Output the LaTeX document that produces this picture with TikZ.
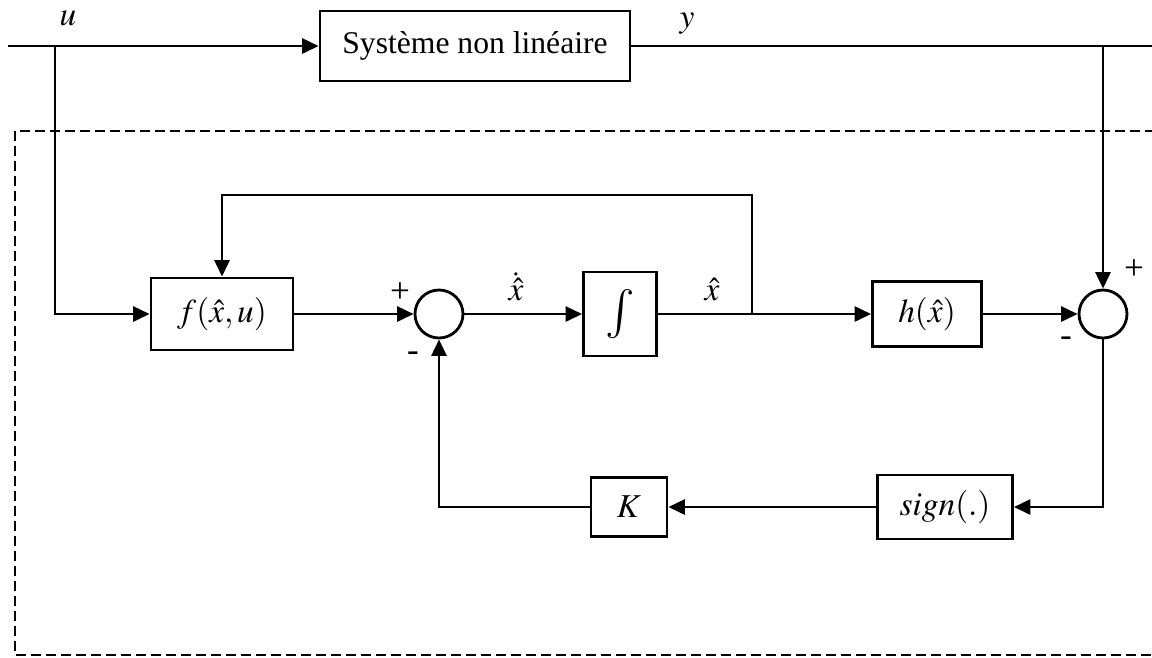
\documentclass[tikz,border=0pt]{standalone}
\usepackage{mathptmx}
\usepackage{fontspec}
\setmainfont{Liberation Serif}
\usetikzlibrary{arrows.meta}

\begin{document}
\begin{tikzpicture}[x=0.2mm, y=-0.2mm, line width=1.6pt,
    blockBox/.style={draw, rectangle, inner sep=0pt},
    sumCircle/.style={draw, circle, minimum size=9.6mm, inner sep=0pt},
    signal/.style={-{Triangle[length=3.3mm,width=3mm]}},
    signLabel/.style={font=\fontsize{20}{22}\selectfont},
    every node/.style={font=\fontsize{19}{22}\selectfont}]
    \def\topRow{46}
    \def\mainRow{314}
    \def\lowRow{507}

    % Page frame
    \clip (0,0) rectangle (1152,657);

    % Observer frame
    \draw[line width=1.2pt, dash pattern=on 2mm off 1mm] (1170,131) -- (15,131) -- (15,655) -- (1170,655);

    % Blocks
    \node[blockBox, minimum width=62mm, minimum height=14mm, font=\fontsize{18}{21}\selectfont] (system) at (475,\topRow) {Système non linéaire};
    \node[blockBox, minimum width=28.4mm, minimum height=14.4mm] (fBlock) at (222,\mainRow) {$f(\hat{x},u)$};
    \node[sumCircle] (sumA) at (439,\mainRow) {};
    \node[blockBox, minimum width=14.6mm, minimum height=16.8mm, font=\fontsize{28}{30}\selectfont] (intBlock) at (620,\mainRow) {$\int$};
    \node[blockBox, minimum width=21.8mm, minimum height=13mm] (hBlock) at (927,\mainRow) {$h(\hat{x})$};
    \node[sumCircle] (sumB) at (1103,\mainRow) {};
    \node[blockBox, minimum width=27mm, minimum height=12.8mm] (signBlock) at (945,\lowRow) {$sign(.)$};
    \node[blockBox, minimum width=15.2mm, minimum height=11.8mm] (kBlock) at (629,\lowRow) {$K$};

    % Branch points
    \coordinate (uStart) at (8,\topRow);
    \coordinate (uTap) at (55,\topRow);
    \coordinate (yTap) at (1103,\topRow);
    \coordinate (yEnd) at (1170,\topRow);
    \coordinate (xTap) at (752,\mainRow);
    \coordinate (loopTop) at (752,195);

    % Signals
    \draw[signal] (uStart) -- (system.west);
    \draw (system.east) -- (yEnd);
    \draw[signal] (yTap) -- (sumB.north);
    \draw[signal] (uTap) |- (fBlock.west);
    \draw[signal] (fBlock) -- (sumA);
    \draw[signal] (sumA) -- (intBlock);
    \draw[signal] (intBlock) -- (hBlock);
    \draw[signal] (hBlock) -- (sumB);
    \draw[signal] (xTap) -- (loopTop) -| (fBlock.north);
    \draw[signal] (sumB.south) |- (signBlock.east);
    \draw[signal] (signBlock) -- (kBlock);
    \draw[signal] (kBlock.west) -| (sumA.south);

    % Labels
    \node (uLabel) at (68,18) {$u$};
    \node (yLabel) at (687,24) {$y$};
    \node[anchor=south] (xDotLabel) at (516,308) {$\dot{\hat{x}}$};
    \node[anchor=south] (xHatLabel) at (712,308) {$\hat{x}$};
    \node[signLabel] (plusA) at (400,293) {+};
    \node[signLabel] (minusA) at (413,357) {-};
    \node[signLabel] (plusB) at (1134,270) {+};
    \node[signLabel] (minusB) at (1066,342) {-};

\end{tikzpicture}
\end{document}
